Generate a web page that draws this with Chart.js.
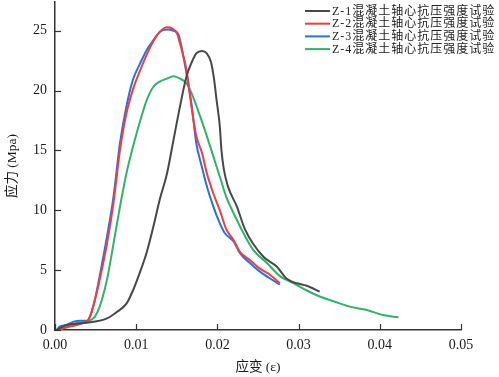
<!DOCTYPE html>
<html><head><meta charset="utf-8">
<script src="https://cdn.jsdelivr.net/npm/chart.js@4/dist/chart.umd.min.js"></script>
<style>html,body{margin:0;padding:0;background:#fff}#wrap{width:499px;height:377px}</style>
</head><body><div id="wrap"><canvas id="c" width="499" height="377"></canvas></div>
<script>
const seriesNames = ["Z-1混凝土轴心抗压强度试验","Z-2混凝土轴心抗压强度试验","Z-3混凝土轴心抗压强度试验","Z-4混凝土轴心抗压强度试验"];
const seriesColors = ["#484848","#f83a3a","#2272ee","#2fb36a"];
const xTicks = [0,0.01,0.02,0.03,0.04,0.05];
const yTicks = [0,5,10,15,20,25];

const z1Strain = [0.0002,0.0014,0.0039,0.0064,0.0076,0.0088,0.0096,0.0105,0.0113,0.0121,0.0129,0.0138,0.0146,0.0154,0.0162,0.0168,0.0174,0.0181,0.0187,0.0192,0.0196,0.0199,0.0203,0.0205,0.0208,0.0213,0.0224,0.0234,0.0244,0.0257,0.0273,0.0285,0.0298,0.0310,0.0326];
const z1Stress = [0,0.42,0.6,0.97,1.5,2.2,3.3,4.9,6.5,8.6,10.9,13.1,15.9,18.7,21.2,22.3,23.1,23.3,23.1,22.4,20.9,19.2,17.0,15.0,13.4,12.0,10.3,8.4,7.2,6.1,5.3,4.3,3.9,3.7,3.2];

const z2Strain = [0.0004,0.0018,0.0031,0.0041,0.0047,0.0055,0.0064,0.0072,0.0080,0.0088,0.0096,0.0105,0.0113,0.0121,0.0129,0.0138,0.0144,0.0150,0.0156,0.0162,0.0168,0.0174,0.0181,0.0187,0.0195,0.0203,0.0211,0.0220,0.0228,0.0240,0.0252,0.0265,0.0277];
const z2Stress = [0,0.28,0.5,0.84,1.95,4.2,7.2,10.6,15.0,18.1,20.1,21.7,23.0,24.1,24.9,25.3,25.2,24.8,23.4,21.7,18.7,16.2,14.8,13.1,11.4,10.0,8.4,7.5,6.5,5.85,5.15,4.6,3.9];

const z3Strain = [0.0002,0.0006,0.0014,0.0023,0.0031,0.0039,0.0043,0.0049,0.0055,0.0064,0.0072,0.0080,0.0088,0.0096,0.0105,0.0113,0.0121,0.0129,0.0138,0.0146,0.0152,0.0156,0.0162,0.0168,0.0174,0.0181,0.0187,0.0195,0.0203,0.0209,0.0220,0.0228,0.0240,0.0252,0.0265,0.0277];
const z3Stress = [0,0.28,0.42,0.7,0.78,0.78,1.1,2.5,4.5,7.8,11.1,15.6,18.7,20.9,22.3,23.4,24.2,24.9,25.1,25.0,24.7,23.6,21.4,18.9,15.6,13.6,12.0,10.3,8.9,8.1,7.4,6.4,5.6,4.9,4.3,3.8];

const z4Strain = [0.0004,0.0014,0.0027,0.0039,0.0049,0.0055,0.0064,0.0072,0.0080,0.0088,0.0096,0.0105,0.0113,0.0121,0.0129,0.0138,0.0146,0.0154,0.0162,0.0168,0.0179,0.0187,0.0195,0.0203,0.0211,0.0220,0.0232,0.0244,0.0261,0.0277,0.0294,0.0310,0.0326,0.0343,0.0363,0.0384,0.0404,0.0423];
const z4Stress = [0,0.28,0.56,0.7,1.1,1.95,4.2,7.2,10.3,13.1,15.3,17.5,19.2,20.3,20.75,21.0,21.2,21.0,20.6,19.8,17.8,16.2,14.5,12.8,11.1,9.75,8.1,6.7,5.6,4.5,3.9,3.3,2.8,2.4,1.95,1.67,1.25,1.06];

const strains = [z1Strain,z2Strain,z3Strain,z4Strain];
const stresses = [z1Stress,z2Stress,z3Stress,z4Stress];

const FONT = "'Liberation Serif','Noto Sans CJK SC',serif";

const datasets = seriesNames.map((n,i)=>({
  label:n,
  data: strains[i].map((x,j)=>({x:x,y:stresses[i][j]})),
  borderColor: seriesColors[i],
  backgroundColor: seriesColors[i],
  borderWidth: 2,
  pointRadius: 0,
  cubicInterpolationMode: 'monotone',
  fill:false
}));

const innerTicks = {
  id:'innerTicks',
  afterDraw(chart){
    const ctx = chart.ctx, xs = chart.scales.x, ys = chart.scales.y;
    ctx.save();
    ctx.strokeStyle = '#333';
    ctx.lineWidth = 1.2;
    xTicks.forEach(v=>{
      const px = Math.round(xs.getPixelForValue(v))+0.5;
      ctx.beginPath(); ctx.moveTo(px, ys.bottom); ctx.lineTo(px, ys.bottom-6); ctx.stroke();
    });
    yTicks.forEach(v=>{
      const py = Math.round(ys.getPixelForValue(v))+0.5;
      ctx.beginPath(); ctx.moveTo(xs.left, py); ctx.lineTo(xs.left+6, py); ctx.stroke();
    });
    // legend
    ctx.font = "12px " + FONT;
    try { ctx.letterSpacing = '1px'; } catch(e) {}
    ctx.textBaseline = 'middle';
    ctx.fillStyle = '#222';
    chart.data.datasets.forEach((d,i)=>{
      const y = 11 + i*12.7;
      ctx.strokeStyle = d.borderColor; ctx.lineWidth = 2;
      ctx.beginPath(); ctx.moveTo(305,y); ctx.lineTo(330,y); ctx.stroke();
      ctx.fillText(d.label, 332, y+0.5);
    });
    ctx.restore();
  }
};

new Chart(document.getElementById('c'),{
  type:'line',
  data:{datasets},
  options:{
    responsive:false,
    animation:false,
    layout:{padding:{top:2,right:38,left:0,bottom:0}},
    plugins:{legend:{display:false},tooltip:{enabled:false}},
    scales:{
      x:{
        type:'linear', min:0, max:0.05,
        afterBuildTicks(s){ s.ticks = xTicks.map(v=>({value:v})); },
        afterFit(s){ s.height = 47; s.paddingLeft = 0; s.paddingRight = 0; },
        grid:{display:false, drawTicks:false},
        border:{display:true,color:'#333',width:1.5},
        ticks:{padding:7,color:'#1a1a1a',font:{family:FONT,size:14},maxRotation:0,callback:v=>v.toFixed(2)},
        title:{display:true,text:'应变 (ε)',color:'#1a1a1a',font:{family:FONT,size:13.5},padding:{top:0,bottom:1}}
      },
      y:{
        type:'linear', min:0, max:27.4,
        afterBuildTicks(s){ s.ticks = yTicks.map(v=>({value:v})); },
        afterFit(s){ s.width = 55; s.paddingTop = 0; s.paddingBottom = 0; },
        grid:{display:false, drawTicks:false},
        border:{display:true,color:'#333',width:1.5},
        ticks:{padding:8,color:'#1a1a1a',font:{family:FONT,size:14},callback:v=>String(v)},
        title:{display:true,text:'应力 (Mpa)',color:'#1a1a1a',font:{family:FONT,size:13.5},padding:{top:4,bottom:0}}
      }
    }
  },
  plugins:[innerTicks]
});
</script></body></html>
